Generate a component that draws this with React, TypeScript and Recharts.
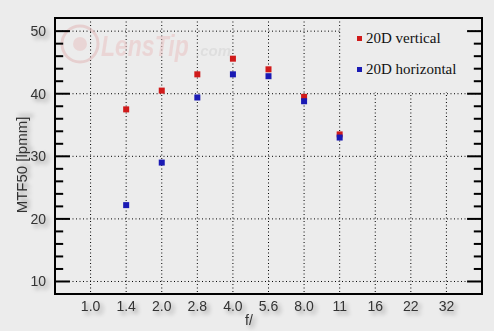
import React from 'react';
import {
  ScatterChart,
  Scatter,
  XAxis,
  YAxis,
  CartesianGrid,
  ReferenceArea,
  ReferenceLine,
  Customized,
} from 'recharts';

const fStops: string[] = ['1.0', '1.4', '2.0', '2.8', '4.0', '5.6', '8.0', '11', '16', '22', '32'];
const verticalValues: (number | null)[] = [null, 37.5, 40.5, 43.1, 45.6, 43.9, 39.5, 33.5, null, null, null];
const horizontalValues: (number | null)[] = [null, 22.2, 29.0, 39.4, 43.1, 42.8, 38.8, 33.0, null, null, null];
const majorTicks: number[] = [10, 20, 30, 40, 50];
const minorTicks: number[] = [12, 14, 16, 18, 22, 24, 26, 28, 32, 34, 36, 38, 42, 44, 46, 48];
const seriesNames = ['20D vertical', '20D horizontal'];

const RED = '#d01a1a';
const BLUE = '#1a1ab4';
const BG = '#ececec';

const toPoints = (vals: (number | null)[]) =>
  vals
    .map((v, i) => (v == null ? null : { x: i + 1, y: v }))
    .filter((p) => p !== null) as { x: number; y: number }[];

const verticalData = toPoints(verticalValues);
const horizontalData = toPoints(horizontalValues);
const xTicks = fStops.map((_, i) => i + 1);

const shadow = 'drop-shadow(3px 3px 2px rgba(0,0,0,0.35))';
const sans = '"Liberation Sans", Arial, sans-serif';

const XTick = (props: any) => {
  const { x, y, payload } = props;
  return (
    <text
      x={x}
      y={y + 17}
      textAnchor="middle"
      fontFamily={sans}
      fontSize={14}
      fill="#333"
      style={{ filter: shadow }}
    >
      {fStops[payload.value - 1]}
    </text>
  );
};

const YTick = (props: any) => {
  const { x, y, payload } = props;
  return (
    <text
      x={x}
      y={y + 5}
      textAnchor="end"
      fontFamily={sans}
      fontSize={14}
      fill="#333"
      style={{ filter: shadow }}
    >
      {payload.value}
    </text>
  );
};

const square = (color: string) => (p: any) => (
  <rect x={p.cx - 3} y={p.cy - 3} width={6} height={6} fill={color} />
);

const LegendBox = () => (
  <div
    style={{
      position: 'absolute',
      left: 342,
      top: 19,
      width: 124,
      height: 73,
      background: BG,
      fontFamily: '"Liberation Serif", "Times New Roman", serif',
      fontSize: 15,
      color: '#111',
    }}
  >
    {seriesNames.map((name, i) => (
      <div
        key={name}
        style={{
          position: 'absolute',
          left: 15,
          top: i === 0 ? 10 : 41,
          display: 'flex',
          alignItems: 'center',
          whiteSpace: 'nowrap',
          lineHeight: '18px',
        }}
      >
        <span style={{ display: 'inline-block', width: 5, height: 5, background: i === 0 ? RED : BLUE, marginRight: 4 }} />
        <span>{name}</span>
      </div>
    ))}
  </div>
);

const Decorations = () => (
  <g>
    <g opacity={0.55}>
      <circle cx={80} cy={44} r={18} fill="none" stroke="#e2b9b9" strokeWidth={3} />
      <circle cx={80} cy={44} r={7} fill="#e8c4c4" />
      <text
        x={0}
        y={0}
        transform="translate(101,56) scale(1,1.3)"
        fontFamily={sans}
        fontStyle="italic"
        fontWeight="bold"
        fontSize={23}
        fill="#eac4c4"
      >
        LensTip
      </text>
      <text x={196} y={56} fontFamily={sans} fontStyle="italic" fontWeight="bold" fontSize={15} fill="#d4d4d4">
        .com
      </text>
    </g>
    <text
      x={0}
      y={0}
      transform="translate(27,165) rotate(-90)"
      textAnchor="middle"
      fontFamily={sans}
      fontSize={15}
      fill="#333"
      style={{ filter: shadow }}
    >
      MTF50 [lpmm]
    </text>
    <text
      x={249}
      y={325}
      textAnchor="middle"
      fontFamily={sans}
      fontSize={14}
      fill="#333"
      style={{ filter: shadow }}
    >
      f/
    </text>
  </g>
);

// tick mark lengths expressed in x-axis units (one category step = 1 unit)
const MAJOR_LEN = 0.42;
const MINOR_LEN = 0.23;

export default function App() {
  const yDomain: [number, number] = [8, 52.1];
  const xDomain: [number, number] = [0, 12];
  const tickMarks = [
    ...majorTicks.map((v) => ({ v, len: MAJOR_LEN })),
    ...minorTicks.map((v) => ({ v, len: MINOR_LEN })),
  ];
  return (
    <div style={{ position: 'absolute', left: 0, top: 0, width: 494, height: 331, background: BG }}>
      <ScatterChart width={494} height={331} margin={{ top: 18, right: 12, bottom: 0, left: 0 }}>
        <Customized component={Decorations} />
        <CartesianGrid
          yAxisId="left"
          xAxisId={0}
          stroke="#000"
          strokeDasharray="1 2.5"
          horizontalValues={majorTicks}
          verticalValues={xTicks}
        />
        <XAxis
          xAxisId={0}
          type="number"
          dataKey="x"
          domain={xDomain}
          ticks={xTicks}
          allowDataOverflow
          height={37}
          tickLine={false}
          tickSize={0}
          tickMargin={0}
          axisLine={false}
          tick={<XTick />}
          interval={0}
        />
        <YAxis
          yAxisId="left"
          type="number"
          dataKey="y"
          domain={yDomain}
          allowDataOverflow
          ticks={majorTicks}
          width={55}
          tickLine={false}
          tickSize={0}
          tickMargin={9}
          axisLine={false}
          tick={<YTick />}
          interval={0}
        />
        {tickMarks.map((t) => (
          <ReferenceLine
            key={`l${t.v}`}
            yAxisId="left"
            xAxisId={0}
            segment={[
              { x: xDomain[0], y: t.v },
              { x: xDomain[0] + t.len, y: t.v },
            ]}
            stroke="#000"
            strokeWidth={2}
            ifOverflow="visible"
          />
        ))}
        {tickMarks.map((t) => (
          <ReferenceLine
            key={`r${t.v}`}
            yAxisId="left"
            xAxisId={0}
            segment={[
              { x: xDomain[1] - t.len, y: t.v },
              { x: xDomain[1], y: t.v },
            ]}
            stroke="#000"
            strokeWidth={2}
            ifOverflow="visible"
          />
        ))}
        <ReferenceArea
          yAxisId="left"
          xAxisId={0}
          x1={xDomain[0]}
          x2={xDomain[1]}
          y1={yDomain[0]}
          y2={yDomain[1]}
          fill="none"
          fillOpacity={0}
          stroke="#000"
          strokeWidth={2}
          ifOverflow="visible"
        />
        <Scatter
          name={seriesNames[0]}
          data={verticalData}
          yAxisId="left"
          xAxisId={0}
          fill={RED}
          shape={square(RED)}
          isAnimationActive={false}
        />
        <Scatter
          name={seriesNames[1]}
          data={horizontalData}
          yAxisId="left"
          xAxisId={0}
          fill={BLUE}
          shape={square(BLUE)}
          isAnimationActive={false}
        />
      </ScatterChart>
      <LegendBox />
    </div>
  );
}
